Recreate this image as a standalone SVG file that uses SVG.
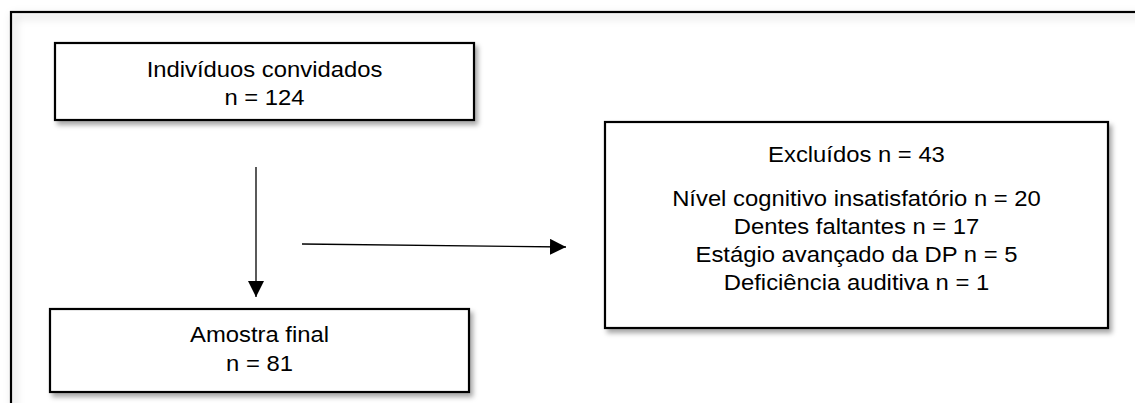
<svg xmlns="http://www.w3.org/2000/svg" width="1135" height="403" viewBox="0 0 1135 403">
  <defs>
    <filter id="shadow" x="-10%" y="-10%" width="130%" height="130%">
      <feDropShadow dx="3" dy="4" stdDeviation="2.5" flood-color="#000" flood-opacity="0.35"/>
    </filter>
    <filter id="frameShadow" x="-5%" y="-5%" width="120%" height="120%">
      <feDropShadow dx="3" dy="4" stdDeviation="4" flood-color="#000" flood-opacity="0.25"/>
    </filter>
    <marker id="arrow" viewBox="0 0 16 16" refX="16" refY="8" markerWidth="16" markerHeight="16" markerUnits="userSpaceOnUse" orient="auto">
      <path d="M0,0 L16,8 L0,16 Z" fill="#000"/>
    </marker>
    <style>
      .box { fill: #fff; stroke: #000; stroke-width: 2.2; filter: url(#shadow); }
      .label { font-family: "Liberation Sans", Arial, sans-serif; font-size: 22px; fill: #000; text-anchor: middle; }
      .conn { stroke: #000; stroke-width: 1.3; fill: none; marker-end: url(#arrow); }
    </style>
  </defs>
  <rect width="1135" height="403" fill="#fff"/>
  <rect id="frame" x="11" y="12" width="1200" height="500" fill="none" stroke="#000" stroke-width="2.2" filter="url(#frameShadow)"/>

  <g id="node-convidados">
    <rect class="box" x="55" y="43" width="419" height="77"/>
    <g transform="translate(264.5 0) scale(1.083 1)">
      <text class="label" x="0" y="77">Indivíduos convidados</text>
      <text class="label" x="0" y="105">n = 124</text>
    </g>
  </g>

  <g id="node-excluidos">
    <rect class="box" x="605" y="122" width="503" height="206"/>
    <g transform="translate(856.5 0) scale(1.083 1)">
      <text class="label" x="0" y="162">Excluídos n = 43</text>
      <text class="label" x="0" y="206.5">Nível cognitivo insatisfatório n = 20</text>
      <text class="label" x="0" y="234.5">Dentes faltantes n = 17</text>
      <text class="label" x="0" y="262.5">Estágio avançado da DP n = 5</text>
      <text class="label" x="0" y="290.5">Deficiência auditiva n = 1</text>
    </g>
  </g>

  <g id="node-amostra">
    <rect class="box" x="50" y="309" width="419" height="83"/>
    <g transform="translate(259.5 0) scale(1.083 1)">
      <text class="label" x="0" y="342.5">Amostra final</text>
      <text class="label" x="0" y="371.5">n = 81</text>
    </g>
  </g>

  <g id="connectors">
    <line class="conn" x1="256" y1="167" x2="256" y2="297"/>
    <line class="conn" x1="302" y1="244" x2="566" y2="247"/>
  </g>
</svg>
